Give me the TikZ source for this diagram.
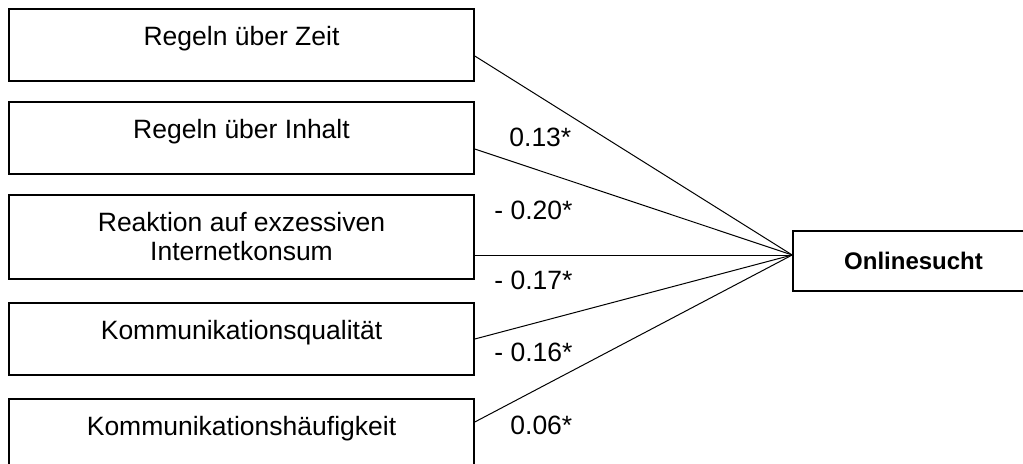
\documentclass[tikz,border=0pt]{standalone}
\usepackage{fontspec}
\setmainfont{Liberation Sans}
\begin{document}
\begin{tikzpicture}[x=0.5pt,y=0.5pt,
  var/.style={draw,line width=0.8pt,inner sep=0pt,minimum width=232.5pt,minimum height=36pt},
  oneline/.style={text height=9pt,text depth=9pt},
  coef/.style={anchor=west,inner sep=0pt},
  link/.style={line width=0.5pt}]
\fontsize{13.25}{14.5}\selectfont
\useasboundingbox (0,0) rectangle (1023,463);
\node[var,oneline] (zeit) at (241.5,418) {Regeln über Zeit};
\node[var,oneline] (inhalt) at (241.5,325) {Regeln über Inhalt};
\node[var,minimum height=42pt,align=center] (reaktion) at (241.5,226) {Reaktion auf exzessiven\\Internetkonsum};
\node[var,oneline] (qualitaet) at (241.5,124) {Kommunikationsqualität};
\node[var,oneline] (haeufigkeit) at (241.5,28) {Kommunikationshäufigkeit};
\node[draw,line width=0.8pt,inner sep=0pt,minimum width=120.5pt,minimum height=30pt,font=\fontsize{12}{14}\selectfont\bfseries] (sucht) at (913.5,202) {Onlinesucht};
\node[coef] (c1) at (509,326) {0.13*};
\node[coef] (c2) at (494,253) {- 0.20*};
\node[coef] (c3) at (494,183) {- 0.17*};
\node[coef] (c4) at (494,111) {- 0.16*};
\node[coef] (c5) at (510,38) {0.06*};
\draw[link] ([yshift=-5.5pt]zeit.east) -- ([yshift=3pt]sucht.west);
\draw[link] ([yshift=-5.5pt]inhalt.east) -- ([yshift=3pt]sucht.west);
\draw[link] ([yshift=-9pt]reaktion.east) -- ([yshift=3pt]sucht.west);
\draw[link] (qualitaet.east) -- ([yshift=3pt]sucht.west);
\draw[link] ([yshift=6.5pt]haeufigkeit.east) -- ([yshift=3pt]sucht.west);
\end{tikzpicture}
\end{document}
